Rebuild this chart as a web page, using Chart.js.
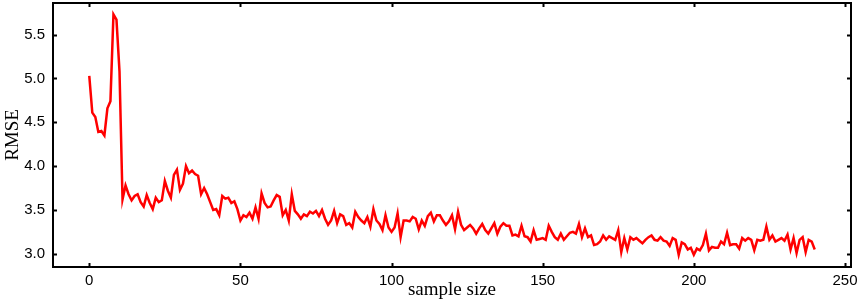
<!DOCTYPE html>
<html>
<head>
<meta charset="utf-8">
<script src="https://cdn.jsdelivr.net/npm/chart.js@4/dist/chart.umd.min.js"></script>
<style>
    html, body { margin: 0; padding: 0; background: #fff; }
    #wrap { width: 858px; height: 302px; }
</style>
</head>
<body>
<div id="wrap"><canvas id="rmseChart"></canvas></div>
<script>
// sample sizes 0..240
const sampleSize = Array.from({ length: 241 }, (_, i) => i);

const rmse = [
    5.03, 4.61, 4.56, 4.39, 4.40, 4.35, 4.66, 4.74, 5.73, 5.67,
    5.08, 3.62, 3.78, 3.68, 3.61, 3.66, 3.68, 3.59, 3.54, 3.67,
    3.58, 3.51, 3.64, 3.59, 3.61, 3.83, 3.72, 3.64, 3.90, 3.96,
    3.73, 3.80, 4.00, 3.92, 3.95, 3.91, 3.89, 3.68, 3.75, 3.68,
    3.59, 3.50, 3.51, 3.44, 3.66, 3.63, 3.64, 3.58, 3.60, 3.51,
    3.38, 3.44, 3.42, 3.47, 3.40, 3.53, 3.40, 3.69, 3.58, 3.53,
    3.54, 3.61, 3.67, 3.65, 3.44, 3.50, 3.38, 3.68, 3.49, 3.45,
    3.40, 3.45, 3.43, 3.48, 3.46, 3.49, 3.43, 3.50, 3.40, 3.33,
    3.38, 3.49, 3.35, 3.45, 3.43, 3.33, 3.35, 3.30, 3.48, 3.42,
    3.38, 3.35, 3.42, 3.31, 3.51, 3.38, 3.34, 3.27, 3.44, 3.30,
    3.25, 3.30, 3.46, 3.19, 3.38, 3.38, 3.37, 3.42, 3.40, 3.28,
    3.38, 3.32, 3.43, 3.47, 3.37, 3.44, 3.44, 3.38, 3.33, 3.37,
    3.44, 3.28, 3.48, 3.33, 3.27, 3.30, 3.33, 3.29, 3.23, 3.29,
    3.34, 3.27, 3.23, 3.29, 3.35, 3.23, 3.31, 3.35, 3.32, 3.32,
    3.21, 3.22, 3.20, 3.32, 3.20, 3.19, 3.14, 3.27, 3.16, 3.17,
    3.18, 3.16, 3.32, 3.25, 3.19, 3.16, 3.23, 3.16, 3.20, 3.24,
    3.25, 3.23, 3.34, 3.19, 3.29, 3.19, 3.21, 3.10, 3.11, 3.14,
    3.21, 3.16, 3.20, 3.18, 3.16, 3.27, 3.02, 3.18, 3.05, 3.19,
    3.16, 3.18, 3.15, 3.12, 3.16, 3.19, 3.21, 3.16, 3.15, 3.19,
    3.15, 3.14, 3.09, 3.18, 3.16, 2.99, 3.13, 3.11, 3.05, 3.07,
    2.99, 3.06, 3.04, 3.10, 3.23, 3.04, 3.08, 3.07, 3.07, 3.14,
    3.11, 3.24, 3.10, 3.11, 3.11, 3.06, 3.18, 3.15, 3.18, 3.16,
    3.04, 3.16, 3.15, 3.16, 3.31, 3.16, 3.21, 3.14, 3.16, 3.18,
    3.15, 3.22, 3.05, 3.18, 3.01, 3.16, 3.19, 3.02, 3.16, 3.14,
    3.05
];

const xTicks = [0, 50, 100, 150, 200, 250];
const yTicks = [3.0, 3.5, 4.0, 4.5, 5.0, 5.5];

// box frame + inward ticks on all four sides
const frameTicks = {
    id: 'frameTicks',
    afterDraw(chart) {
        const { ctx, chartArea: a, scales } = chart;
        const len = 4;
        ctx.save();
        ctx.strokeStyle = '#000';
        ctx.lineWidth = 2;
        ctx.beginPath();
        for (const v of xTicks) {
            const px = Math.round(scales.x.getPixelForValue(v)) + 0.5;
            ctx.moveTo(px, a.bottom); ctx.lineTo(px, a.bottom - len);
            ctx.moveTo(px, a.top); ctx.lineTo(px, a.top + len);
        }
        for (const v of yTicks) {
            const py = Math.round(scales.y.getPixelForValue(v)) + 0.5;
            ctx.moveTo(a.left, py); ctx.lineTo(a.left + len, py);
            ctx.moveTo(a.right, py); ctx.lineTo(a.right - len, py);
        }
        ctx.stroke();
        ctx.strokeRect(a.left, a.top, a.right - a.left, a.bottom - a.top);
        ctx.restore();
    }
};

new Chart(document.getElementById('rmseChart'), {
    type: 'line',
    data: {
        datasets: [{
            label: 'RMSE',
            data: rmse.map((v, i) => ({ x: sampleSize[i], y: v })),
            borderColor: '#ff0000',
            borderWidth: 2.5,
            pointRadius: 0,
            tension: 0,
            fill: false
        }]
    },
    options: {
        responsive: true,
        maintainAspectRatio: false,
        animation: false,
        layout: { padding: { top: 3, right: 7, left: 0, bottom: 0 } },
        plugins: {
            legend: { display: false },
            tooltip: { enabled: false }
        },
        scales: {
            x: {
                type: 'linear',
                min: -12,
                max: 252,
                grid: { display: false, drawTicks: false },
                border: { display: false },
                afterBuildTicks: s => { s.ticks = xTicks.map(v => ({ value: v })); },
                afterFit: s => {
                    s.height = 35;
                    s.paddingLeft = 0;
                    s.paddingRight = 0;
                },
                ticks: {
                    padding: 5,
                    color: '#000',
                    font: { family: 'Liberation Sans', size: 15 }
                },
                title: {
                    display: true,
                    text: 'sample size',
                    color: '#000',
                    padding: { top: 0, bottom: 1 },
                    font: { family: 'Liberation Serif', size: 19 }
                }
            },
            y: {
                min: 2.85,
                max: 5.86,
                grid: { display: false, drawTicks: false },
                border: { display: false },
                afterBuildTicks: s => { s.ticks = yTicks.map(v => ({ value: v })); },
                afterFit: s => {
                    s.width = 53;
                    s.paddingTop = 0;
                    s.paddingBottom = 0;
                },
                ticks: {
                    padding: 8,
                    color: '#000',
                    font: { family: 'Liberation Sans', size: 15 },
                    callback: v => v.toFixed(1)
                },
                title: {
                    display: true,
                    text: 'RMSE',
                    color: '#000',
                    padding: { top: 2, bottom: 0 },
                    font: { family: 'Liberation Serif', size: 19 }
                }
            }
        }
    },
    plugins: [frameTicks]
});
</script>
</body>
</html>
